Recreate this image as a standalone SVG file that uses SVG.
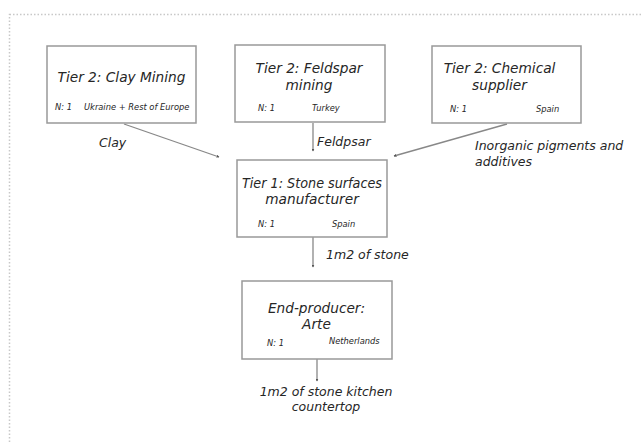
<svg xmlns="http://www.w3.org/2000/svg" width="641" height="442" viewBox="0 0 641 442">
<style>
.box{fill:#fff;stroke:#999;stroke-width:1.5}
.t{font-family:"DejaVu Sans",Verdana,sans-serif;font-style:italic;fill:#262626}
.title{font-size:13.7px;text-anchor:middle}
.small{font-size:8.3px}
.lbl{font-size:12.5px}
.c{stroke:#888;stroke-width:1.3;fill:none;marker-end:url(#ah)}
</style>
<defs>
<marker id="ah" viewBox="0 0 6 6" refX="5" refY="3" markerWidth="3" markerHeight="3" orient="auto" markerUnits="userSpaceOnUse">
<path d="M0,0 L6,3 L0,6 Z" fill="#555"/>
</marker>
</defs>
<rect x="9.5" y="14.5" width="640" height="440" fill="none" stroke="#c8c8c8" stroke-width="1.5" stroke-dasharray="1.5,2"/>
<g id="connectors">
<line class="c" x1="124" y1="124" x2="219" y2="157"/>
<line class="c" x1="313" y1="123" x2="313" y2="151"/>
<line class="c" x1="507" y1="124" x2="394" y2="156"/>
<line class="c" x1="313" y1="237" x2="313" y2="267"/>
<line class="c" x1="317" y1="359" x2="317" y2="381"/>
<text class="t lbl" x="99" y="147">Clay</text>
<text class="t lbl" x="317" y="146">Feldpsar</text>
<text class="t lbl" x="475" y="150">Inorganic pigments and</text>
<text class="t lbl" x="475" y="166">additives</text>
<text class="t lbl" x="326" y="259">1m2 of stone</text>
<text class="t lbl" x="326" y="396" text-anchor="middle">1m2 of stone kitchen</text>
<text class="t lbl" x="326" y="411" text-anchor="middle">countertop</text>
</g>
<g id="clay">
<rect class="box" x="47" y="46" width="149" height="77"/>
<text class="t title" x="121.5" y="82">Tier 2: Clay Mining</text>
<text class="t small" x="55" y="110">N: 1</text>
<text class="t small" x="84" y="110">Ukraine + Rest of Europe</text>
</g>
<g id="feldspar">
<rect class="box" x="235" y="45" width="150" height="77"/>
<text class="t title" x="309" y="73">Tier 2: Feldspar</text>
<text class="t title" x="309" y="90">mining</text>
<text class="t small" x="258" y="111">N: 1</text>
<text class="t small" x="312" y="111">Turkey</text>
</g>
<g id="chemical">
<rect class="box" x="432" y="46" width="149" height="77"/>
<text class="t title" x="499.5" y="73">Tier 2: Chemical</text>
<text class="t title" x="499.5" y="90">supplier</text>
<text class="t small" x="450" y="112">N: 1</text>
<text class="t small" x="536" y="112">Spain</text>
</g>
<g id="tier1">
<rect class="box" x="237" y="160" width="150" height="77"/>
<text class="t title" x="312" y="188" textLength="140" lengthAdjust="spacingAndGlyphs">Tier 1: Stone surfaces</text>
<text class="t title" x="312" y="203.5">manufacturer</text>
<text class="t small" x="258" y="227">N: 1</text>
<text class="t small" x="332" y="227">Spain</text>
</g>
<g id="endproducer">
<rect class="box" x="242" y="281" width="150" height="78"/>
<text class="t title" x="316.5" y="313">End-producer:</text>
<text class="t title" x="316.5" y="329">Arte</text>
<text class="t small" x="267" y="346">N: 1</text>
<text class="t small" x="329" y="344">Netherlands</text>
</g>
</svg>
